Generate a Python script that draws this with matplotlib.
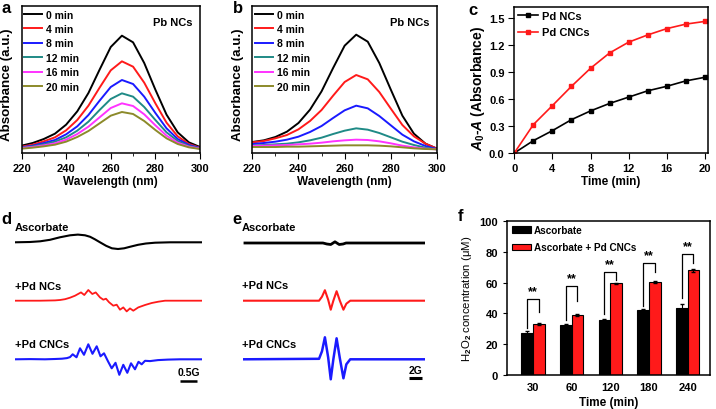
import matplotlib
matplotlib.use('Agg')
import matplotlib.pyplot as plt
from matplotlib.ticker import MultipleLocator

plt.rcParams['font.family'] = ['Liberation Sans', 'DejaVu Sans']
plt.rcParams['font.weight'] = 'bold'
plt.rcParams['axes.labelweight'] = 'bold'
plt.rcParams['mathtext.fontset'] = 'custom'
plt.rcParams['mathtext.rm'] = 'Liberation Sans'
plt.rcParams['mathtext.it'] = 'Liberation Sans:italic:bold'
plt.rcParams['mathtext.bf'] = 'Liberation Sans:bold'
plt.rcParams['axes.linewidth'] = 1.1

# ---------------- data ----------------
wl = [220, 225, 230, 235, 240, 245, 250, 255, 260, 265, 270, 275, 280, 285, 290, 295, 300]
time_labels = ['0 min', '4 min', '8 min', '12 min', '16 min', '20 min']
spec_colors = ['#000000', '#ff1a1a', '#1a1aff', '#1f8a86', '#ff33ff', '#8c8a2a']

a_0 = [22, 30, 42, 58, 85, 125, 180, 250, 318, 352, 332, 270, 190, 115, 62, 32, 18]
a_4 = [19, 25, 35, 47, 68, 99, 142, 196, 248, 275, 259, 211, 149, 91, 50, 27, 16]
a_8 = [17, 22, 30, 39, 56, 80, 114, 157, 198, 219, 207, 169, 120, 74, 42, 24, 15]
a_12 = [16, 20, 26, 34, 47, 67, 94, 129, 162, 179, 169, 138, 99, 62, 36, 21, 14]
a_16 = [15, 18, 23, 29, 40, 57, 79, 107, 135, 149, 141, 116, 83, 52, 31, 19, 13]
a_20 = [13, 16, 20, 25, 34, 48, 66, 89, 112, 123, 117, 96, 69, 44, 27, 17, 12]

b_0 = [33, 38, 48, 64, 90, 130, 185, 255, 322, 355, 334, 270, 190, 112, 58, 28, 13]
b_4 = [32, 36, 44, 54, 71, 96, 129, 172, 213, 234, 221, 183, 133, 84, 50, 28, 13]
b_8 = [27, 30, 34, 40, 49, 63, 81, 105, 128, 142, 134, 111, 83, 55, 35, 21, 12]
b_12 = [22, 24, 26, 28, 32, 38, 46, 57, 67, 74, 70, 60, 47, 34, 24, 16, 11]
b_16 = [21, 22, 23, 24, 26, 28, 31, 35, 38, 40, 39, 35, 29, 22, 17, 13, 11]
b_20 = [18, 18, 18, 19, 19, 20, 21, 22, 23, 23, 23, 22, 20, 17, 14, 12, 11]

t_min = [0, 2, 4, 6, 8, 10, 12, 14, 16, 18, 20]
pd_nc = [0, 0.137, 0.248, 0.37, 0.467, 0.55, 0.62, 0.69, 0.74, 0.80, 0.84]
pd_cnc = [0, 0.315, 0.526, 0.74, 0.94, 1.11, 1.23, 1.31, 1.38, 1.43, 1.46]

# EPR (panel d), field in G, intensity in arbitrary units
d_asc_x = [0, 0.44, 0.74, 1.03, 1.32, 1.62, 1.85, 2.06, 2.21, 2.35, 2.5, 2.68, 2.85, 3.03,
           3.21, 3.38, 3.62, 3.85, 4.12, 4.56, 5.5]
d_asc_y = [0, 0.3, 1, 2.5, 5, 7, 7.7, 7, 5.5, 3, 0, -3.5, -6, -6.7, -6, -4.5, -2.5, -1.2,
           -0.4, 0, 0]
d_nc_x = [0, 0.735, 1.176, 1.324, 1.471, 1.618, 1.765, 1.941, 2.038, 2.156, 2.274, 2.374,
          2.5, 2.597, 2.676, 2.765, 2.891, 2.991, 3.088, 3.185, 3.285, 3.382, 3.479, 3.626,
          3.824, 4.021, 4.215, 4.412, 4.853, 5.5]
d_nc_y = [0, 0, 0.3, 0.7, 1.5, 3, 5, 8.3, 5.7, 10.7, 6.7, 8.3, 3.3, 1, 2, -1.5, -5, -4, -9,
          -6.7, -10.7, -7.7, -10, -6.7, -4.3, -2.3, -1, 0, 0, 0]
d_cnc_x = [0, 0.441, 0.882, 1.176, 1.382, 1.529, 1.618, 1.697, 1.809, 1.912, 2.029, 2.156,
           2.279, 2.403, 2.515, 2.618, 2.735, 2.844, 2.956, 3.068, 3.185, 3.303, 3.412,
           3.529, 3.632, 3.726, 3.824, 3.971, 4.206, 4.5, 4.853, 5.5]
d_cnc_y = [0, 0.2, 0, 0.3, 0.6, 1.2, 2.2, 5, 2, 11, 4.5, 15, 5.5, 13, 3, 6, -2, -9, -3.5,
           -15.5, -5.5, -13.5, -4, -10, -2.5, -5, -1.5, -1.8, -0.8, -0.3, 0, 0]

# EPR (panel e)
e_asc_x = [0.3, 12.3, 12.9, 13.5, 14.15, 14.8, 15.4, 15.85, 28.3]
e_asc_y = [0, 0, -1, -1.5, 1.2, -1.5, -1, 0, 0]
e_x = [0, 11.7, 12.15, 12.6, 13.1, 13.5, 13.9, 14.4, 14.9, 15.45, 15.9, 16.5, 28]
e_nc_y = [0, 0, 4, 10.5, 1, -9, 0, 9.5, 0, -9, -3, 0, 0]
e_cnc_y = [0, 0.5, 8, 22, 2, -20, 0, 21, 1, -19, -5, 0, 0]
epr_labels = ['Ascorbate', '+Pd NCs', '+Pd CNCs']

# panel f
f_times = ['30', '60', '120', '180', '240']
asc_h2o2 = [27.5, 32.5, 36, 42.5, 43.5]
asc_err = [0.8, 0.8, 0.6, 0.6, 2.5]
cnc_h2o2 = [33, 39, 59.5, 60.5, 68]
cnc_err = [0.8, 0.8, 0.5, 0.6, 0.8]
bracket_top = [49.5, 57.5, 67, 72.7, 78.7]
bracket_left = [30.5, 35.5, 39.5, 45, 50]
bracket_right = [41, 48, 62, 67, 72.5]

# ---------------- figure ----------------
W, H = 716, 410
fig = plt.figure(figsize=(W / 100, H / 100), dpi=100)


def box(x0, y0, x1, y1):
    return [x0 / W, 1 - y1 / H, (x1 - x0) / W, (y1 - y0) / H]


FS = 8


def spectra_panel(rect, series, ylabx, leg_x, txt_x):
    ax = fig.add_axes(rect)
    for y, c, lab in zip(series, spec_colors, time_labels):
        ax.plot(wl, y, color=c, lw=1.4, label=lab)
    ax.set_xlim(220, 300)
    ax.set_ylim(0, 441)
    ax.set_yticks([])
    ax.xaxis.set_major_locator(MultipleLocator(20))
    ax.xaxis.set_minor_locator(MultipleLocator(10))
    ax.tick_params(axis='x', which='both', direction='out', labelsize=FS, pad=3)
    ax.tick_params(axis='x', which='major', length=4)
    ax.tick_params(axis='x', which='minor', length=2.5)
    ax.set_xlabel('Wavelength (nm)', fontsize=FS + 0.5, labelpad=2)
    ax.set_ylabel('Absorbance (a.u.)', fontsize=9.6)
    ax.yaxis.set_label_coords(ylabx, 0.47)
    ax.legend(loc='upper left', bbox_to_anchor=(leg_x, 0.975), frameon=False,
              fontsize=7.5, handlelength=1.75, handletextpad=0.35, labelspacing=0.42,
              borderpad=0, borderaxespad=0)
    ax.text(txt_x, 0.89, 'Pb NCs', transform=ax.transAxes, ha='right', va='center',
            fontsize=FS)
    return ax


spectra_panel(box(21.5, 7, 200, 154), [a_0, a_4, a_8, a_12, a_16, a_20], -0.048, 0.014, 0.96)
spectra_panel(box(252.3, 7, 437, 154), [b_0, b_4, b_8, b_12, b_16, b_20], -0.045, 0.015, 0.958)

# panel c
axc = fig.add_axes(box(514.3, 8, 707.7, 154))
axc.plot(t_min, pd_nc, color='black', lw=1.2, marker='s', ms=2.2, label='Pd NCs')
axc.plot(t_min, pd_cnc, color='#ff1a1a', lw=1.2, marker='s', ms=2.2, mfc='#ff1a1a',
         mec='#ff1a1a', label='Pd CNCs')
axc.set_xlim(0, 20.3)
axc.set_ylim(0, 1.62)
axc.xaxis.set_major_locator(MultipleLocator(4))
axc.yaxis.set_major_locator(MultipleLocator(0.3))
axc.yaxis.set_major_formatter(matplotlib.ticker.FormatStrFormatter('%.1f'))
axc.tick_params(direction='out', labelsize=FS, length=4, pad=3)
axc.set_xlabel('Time (min)', fontsize=FS + 0.5, labelpad=2)
axc.set_ylabel(r'$A_\mathbf{0}$-$A$ (Absorbance)', fontsize=10)
axc.yaxis.set_label_coords(-0.14, 0.45)
axc.legend(loc='upper left', bbox_to_anchor=(0.02, 0.97), frameon=False, fontsize=FS,
           handlelength=1.8, handletextpad=0.3, labelspacing=0.55, borderpad=0,
           borderaxespad=0)

# panel d
axd = fig.add_axes(box(15, 215, 202, 400))
axd.set_xlim(0, 5.5)
axd.set_ylim(0, 185)
axd.axis('off')
d_base = [156.7, 98.3, 39.7]
for xs, ys, c, b, lw in zip([d_asc_x, d_nc_x, d_cnc_x], [d_asc_y, d_nc_y, d_cnc_y],
                            ['black', '#ff1a1a', '#1a1aff'], d_base, [1.5, 1.3, 1.5]):
    axd.plot(xs, [b + v for v in ys], color=c, lw=lw)
for lab, b in zip(epr_labels, d_base):
    axd.text(0, b + 15, lab, ha='left', va='center', fontsize=FS)
axd.plot([4.85, 5.35], [18.3, 18.3], color='black', lw=1.8, solid_capstyle='butt')
axd.text(5.1, 27, '0.5G', ha='center', va='center', fontsize=7.5)

# panel e
axe = fig.add_axes(box(243, 215, 425, 400))
axe.set_xlim(0, 28)
axe.set_ylim(0, 185)
axe.axis('off')
e_base = [156, 98.3, 39.7]
axe.plot(e_asc_x, [e_base[0] + v for v in e_asc_y], color='black', lw=2)
axe.plot(e_x, [e_base[1] + v for v in e_nc_y], color='#ff1a1a', lw=1.5)
axe.plot(e_x, [e_base[2] + v for v in e_cnc_y], color='#1a1aff', lw=1.8)
for lab, b in zip(epr_labels, e_base):
    axe.text(-0.2, b + 15.5, lab, ha='left', va='center', fontsize=FS)
axe.plot([25.5, 27.5], [21, 21], color='black', lw=2.2, solid_capstyle='butt')
axe.text(26.5, 28.5, '2G', ha='center', va='center', fontsize=7.5)

# panel f
axf = fig.add_axes(box(507, 222, 710, 376))
xs = list(range(len(f_times)))
bw = 0.3
axf.bar([x - bw / 2 for x in xs], asc_h2o2, bw, color='black', edgecolor='black',
        lw=0.8, label='Ascorbate', yerr=asc_err, error_kw=dict(ecolor='black', capsize=1.5,
                                                              elinewidth=0.8))
axf.bar([x + bw / 2 for x in xs], cnc_h2o2, bw, color='#ff1a1a', edgecolor='black',
        lw=0.8, label='Ascorbate + Pd CNCs', yerr=cnc_err,
        error_kw=dict(ecolor='black', capsize=1.5, elinewidth=0.8))
for x, bt, bl, br in zip(xs, bracket_top, bracket_left, bracket_right):
    axf.plot([x - bw / 2, x - bw / 2, x + bw / 2, x + bw / 2], [bl, bt, bt, br],
             color='black', lw=0.9)
    axf.text(x, bt + 1.2, '**', ha='center', va='bottom', fontsize=9)
axf.set_xlim(-0.67, 4.58)
axf.set_ylim(0, 100)
axf.set_xticks(xs)
axf.set_xticklabels(f_times)
axf.yaxis.set_major_locator(MultipleLocator(20))
axf.tick_params(axis='x', length=0, labelsize=FS, pad=5)
axf.tick_params(axis='y', direction='out', length=3, labelsize=FS)
axf.set_xlabel('Time (min)', fontsize=FS + 0.5, labelpad=3)
axf.set_ylabel(r'H$_2$O$_2$ concentration (μM)', fontsize=8.2, fontweight='normal')
axf.yaxis.set_label_coords(-0.165, 0.5)
axf.legend(loc='upper left', bbox_to_anchor=(0.023, 0.975), frameon=False, fontsize=7.2,
           handlelength=1.9, handleheight=0.6, handletextpad=0.35, labelspacing=0.75,
           borderpad=0, borderaxespad=0)

# panel letters
for lab, (px, py) in zip('abcdef', [(1, 1), (233, 1), (468, 3), (1, 212), (232, 212),
                                     (458, 209)]):
    fig.text(px / W, 1 - py / H, lab, ha='left', va='top', fontsize=12)

fig.savefig('out.png', dpi=100)
